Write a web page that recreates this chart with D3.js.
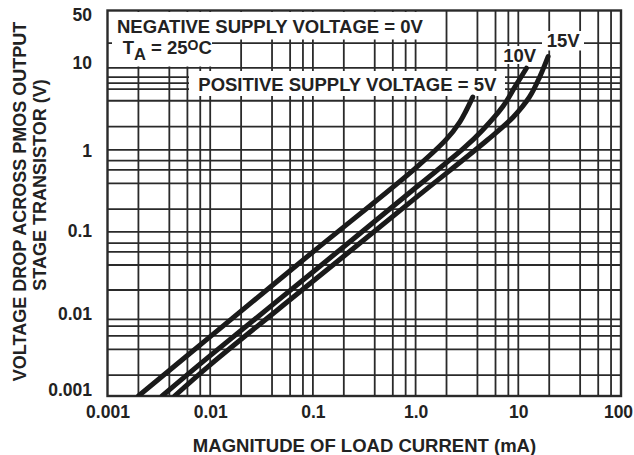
<!DOCTYPE html>
<html>
<head>
<meta charset="utf-8">
<script src="https://cdn.jsdelivr.net/npm/d3@7/dist/d3.min.js"></script>
<style>
  html, body { margin: 0; padding: 0; background: #fff; }
  svg { display: block; }
  text { font-family: "Liberation Sans", Arial, Helvetica, sans-serif; font-weight: bold; fill: #222; }
</style>
</head>
<body>
<svg id="chart" width="634" height="455"></svg>
<script>
// ---- data ----
const xTicks = [0.001, 0.01, 0.1, 1, 10, 100];
const xTickLabels = ["0.001", "0.01", "0.1", "1.0", "10", "100"];
const yTicks = [0.001, 0.01, 0.1, 1, 10, 50];
const yTickLabels = ["0.001", "0.01", "0.1", "1", "10", "50"];

const xGrid = [0.002, 0.004, 0.006, 0.008, 0.01,
               0.02, 0.04, 0.06, 0.08, 0.1,
               0.2, 0.4, 0.6, 0.8, 1,
               2, 4, 6, 8, 10,
               20, 40, 60, 80];
const yGrid = [0.0018, 0.0037, 0.0054, 0.0071, 0.0086,
               0.0196, 0.0395, 0.057, 0.073, 0.1,
               0.19, 0.39, 0.57, 0.74, 1,
               1.92, 3.97, 5.5, 6.5, 7.7, 10, 20];

const current5V  = [0.002, 0.01, 0.1, 1.0, 2.0, 2.7, 3.1, 3.6];
const voltage5V  = [0.001, 0.0053, 0.057, 0.6, 1.35, 2.2, 3.0, 4.4];
const current10V = [0.0034, 0.01, 0.1, 1.0, 3.0, 4.5, 7.1, 9.3, 12.0];
const voltage10V = [0.001, 0.0031, 0.0325, 0.345, 1.07, 1.75, 3.4, 5.9, 9.9];
const current15V = [0.0045, 0.01, 0.1, 1.0, 5.0, 8.9, 12.9, 16.2, 19.5];
const voltage15V = [0.001, 0.0024, 0.025, 0.26, 1.32, 2.5, 4.45, 7.8, 13.7];

const seriesNames = ["5V", "10V", "15V"];
const xTitle = "MAGNITUDE OF LOAD CURRENT (mA)";
const yTitle1 = "VOLTAGE DROP ACROSS PMOS OUTPUT";
const yTitle2 = "STAGE TRANSISTOR (V)";

// ---- drawing ----
const svg = d3.select("#chart");
const pLeft = 107.5, pRight = 621, pTop = 10.5, pBottom = 396;
const x = d3.scaleLog().domain([0.001, 100]).range([pLeft, pRight]);
const y = d3.scaleLog().domain([0.001, 50]).range([pBottom, pTop]);
const ink = "#2a2a2a";

svg.append("rect").attr("width", 634).attr("height", 455).attr("fill", "#fff");

const grid = svg.append("g").attr("stroke", ink).attr("stroke-width", 1.8);
grid.selectAll("line.v").data(xGrid).join("line").attr("class", "v")
  .attr("x1", d => x(d)).attr("x2", d => x(d)).attr("y1", pTop).attr("y2", pBottom);
grid.selectAll("line.h").data(yGrid).join("line").attr("class", "h")
  .attr("y1", d => y(d)).attr("y2", d => y(d)).attr("x1", pLeft).attr("x2", pRight);

// white label backgrounds (cover grid as in original)
const boxes = [
  [112, 12, 318, 27.5],
  [112, 12, 100, 54.5],
  [189, 71, 316, 25],
  [500, 46, 38, 18],
  [542, 31, 42, 19.5]
];
svg.append("g").selectAll("rect").data(boxes).join("rect")
  .attr("x", d => d[0]).attr("y", d => d[1]).attr("width", d => d[2]).attr("height", d => d[3])
  .attr("fill", "#fff");

// frame
svg.append("rect").attr("x", pLeft).attr("y", pTop).attr("width", pRight - pLeft).attr("height", pBottom - pTop)
  .attr("fill", "none").attr("stroke", ink).attr("stroke-width", 2.4);

// curves
svg.append("clipPath").attr("id", "clip").append("rect")
  .attr("x", pLeft).attr("y", 0).attr("width", pRight - pLeft).attr("height", pBottom);
const series = [
  d3.zip(current5V, voltage5V),
  d3.zip(current10V, voltage10V),
  d3.zip(current15V, voltage15V)
];
const line = d3.line().x(d => x(d[0])).y(d => y(d[1])).curve(d3.curveCatmullRom.alpha(0.5));
svg.append("g").attr("clip-path", "url(#clip)").selectAll("path").data(series).join("path")
  .attr("d", line).attr("fill", "none").attr("stroke", "#1a1a1a").attr("stroke-width", 5)
  .attr("stroke-linecap", "round").attr("stroke-linejoin", "round");

// axes tick labels
const tickFont = "17.5px";
const xAxis = d3.axisBottom(x).tickValues(xTicks).tickSize(0).tickPadding(0)
  .tickFormat((d, i) => xTickLabels[i]);
const gx = svg.append("g").attr("transform", `translate(0,${pBottom})`).call(xAxis);
gx.select(".domain").remove();
gx.selectAll("text").attr("y", 21.8).attr("dy", null)
  .attr("x", (d, i) => i === xTicks.length - 1 ? -3 : 0)
  .style("font-size", tickFont).style("font-family", "'Liberation Sans', Arial, sans-serif")
  .style("font-weight", "bold").attr("fill", "#222");

const yShift = {"50": 3.3, "10": -5.8, "1": 0, "0.1": -1.8, "0.01": -0.3, "0.001": -7};
const yAxis = d3.axisLeft(y).tickValues(yTicks).tickSize(0).tickPadding(0)
  .tickFormat((d, i) => yTickLabels[i]);
const gy = svg.append("g").attr("transform", `translate(${pLeft},0)`).call(yAxis);
gy.select(".domain").remove();
gy.selectAll("text").attr("x", -15.5).attr("dy", null)
  .attr("y", (d, i) => 6.2 + yShift[yTickLabels[i]])
  .style("font-size", tickFont).style("font-family", "'Liberation Sans', Arial, sans-serif")
  .style("font-weight", "bold").attr("fill", "#222");

// titles
svg.append("text").attr("x", 364.5).attr("y", 451.5).attr("text-anchor", "middle")
  .style("font-size", "18.5px").text(xTitle);
svg.append("text").attr("transform", "translate(26,201.5) rotate(-90)").attr("text-anchor", "middle")
  .style("font-size", "18px").text(yTitle1);
svg.append("text").attr("transform", "translate(45.5,185) rotate(-90)").attr("text-anchor", "middle")
  .style("font-size", "18px").text(yTitle2);

// annotations
svg.append("text").attr("x", 117).attr("y", 33).style("font-size", "18.5px")
  .text("NEGATIVE SUPPLY VOLTAGE = 0V");
const ta = svg.append("text").attr("x", 122.7).attr("y", 54).style("font-size", "18.5px");
ta.append("tspan").text("T");
ta.append("tspan").attr("dy", 6).style("font-size", "16.5px").text("A");
ta.append("tspan").attr("dy", -6).text(" = 25");
ta.append("tspan").attr("dy", -4.5).style("font-size", "14px").text("O");
ta.append("tspan").attr("dy", 4.5).text("C");
svg.append("text").attr("x", 198.3).attr("y", 90.5).style("font-size", "18.5px")
  .text("POSITIVE SUPPLY VOLTAGE = " + seriesNames[0]);
svg.append("text").attr("x", 503.3).attr("y", 61.5).style("font-size", "18.5px").text(seriesNames[1]);
svg.append("text").attr("x", 546.7).attr("y", 47).style("font-size", "18.5px").text(seriesNames[2]);
</script>
</body>
</html>
